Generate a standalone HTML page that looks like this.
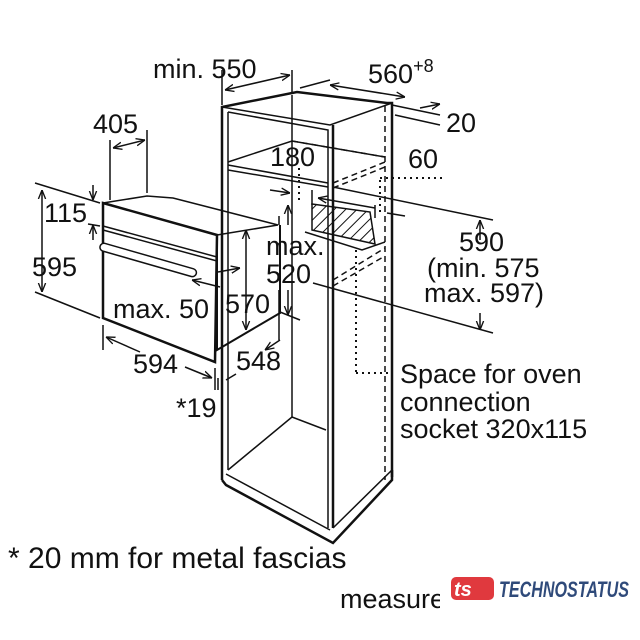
<!DOCTYPE html>
<html><head><style>
html,body{margin:0;padding:0;background:#fff;}
svg{display:block;}
text{font-family:"Liberation Sans",sans-serif;fill:#111;font-size:27px;}
</style></head><body>
<svg width="640" height="640" viewBox="0 0 640 640" xmlns="http://www.w3.org/2000/svg">
<defs>
<marker id="a" viewBox="0 0 10 10" refX="10" refY="5" markerWidth="6" markerHeight="6" orient="auto-start-reverse"><path d="M0,1 L10,5 L0,9" fill="none" stroke="#111" stroke-width="1.5"/></marker>
<pattern id="h" width="8" height="8" patternUnits="userSpaceOnUse" patternTransform="rotate(45)"><line x1="0" y1="0" x2="0" y2="8" stroke="#111" stroke-width="2"/></pattern>
</defs>
<g stroke="#111" fill="none" stroke-width="1.5">
<polyline points="222,480 222,107 297,92 387,103 392,103 392,477" stroke-width="2.5"/>
<line x1="228" y1="112" x2="228" y2="470"/>
<polyline points="222,107 330,125 392,103"/>
<polyline points="228,112 328,130 328,528"/>
<line x1="333" y1="125" x2="333" y2="528" stroke-width="2.5"/>
<line x1="385" y1="106" x2="385" y2="480" stroke-dasharray="6,4"/>
<line x1="292" y1="95" x2="292" y2="417"/>
<polyline points="228,162 292,141 385,157" />
<line x1="292" y1="141" x2="385" y2="157" stroke-dasharray="6,4"/>
<line x1="228" y1="165" x2="328" y2="183"/>
<line x1="228" y1="170" x2="328" y2="187"/>
<line x1="333" y1="183" x2="385" y2="162" stroke-dasharray="6,4"/>
<line x1="333" y1="188" x2="385" y2="167" stroke-dasharray="6,4"/>
<line x1="333" y1="280" x2="385" y2="248" stroke-dasharray="6,4"/>
<line x1="333" y1="286" x2="385" y2="256" stroke-dasharray="6,4"/>
<polyline points="228,470 292,417 326,430"/>
<polyline points="222,480 226,485 333,543 392,480 392,470" stroke-width="2.5"/>
<line x1="226" y1="474" x2="330" y2="530"/>
<line x1="333" y1="528" x2="392" y2="470"/>
<polygon points="312,204 370,212 375,244 312,230" fill="url(#h)"/>
<polyline points="305,232 362,250 385,242"/>
<line x1="299" y1="168" x2="299" y2="200" stroke-dasharray="2,4" stroke-width="2"/>
<line x1="356" y1="250" x2="356" y2="373" stroke-dasharray="2,4" stroke-width="2"/>
<line x1="356" y1="373" x2="392" y2="373" stroke-dasharray="2,4" stroke-width="2"/>
<line x1="380" y1="178" x2="445" y2="178" stroke-dasharray="2,4" stroke-width="2"/>
<line x1="380" y1="180" x2="380" y2="215" stroke-dasharray="2,4" stroke-width="2"/>
<polygon points="103,203 217,235 215,362 103,318" fill="#fff" stroke-width="2.5"/>
<polyline points="103,203 147,196 173,198 278,225 217,235"/>
<polyline points="217,235 217,350 280,313 280,225" stroke-width="2"/>
<line x1="103" y1="226" x2="217" y2="257"/>
<line x1="103" y1="230" x2="217" y2="261"/>
<rect x="100" y="243" width="100" height="8" rx="4" transform="rotate(16 103 247)" fill="#fff"/>
<line x1="222" y1="105" x2="222" y2="70"/><line x1="292" y1="92" x2="292" y2="70"/>
<line x1="225" y1="90" x2="290" y2="75" marker-start="url(#a)" marker-end="url(#a)"/>
<line x1="300" y1="88" x2="330" y2="80"/><line x1="330" y1="85" x2="405" y2="97" marker-start="url(#a)" marker-end="url(#a)"/>
<line x1="392" y1="105" x2="440" y2="115"/><line x1="395" y1="115" x2="440" y2="125"/>
<line x1="420" y1="108" x2="440" y2="104" marker-end="url(#a)"/>
<line x1="110" y1="200" x2="110" y2="140"/><line x1="147" y1="193" x2="147" y2="130"/>
<line x1="113" y1="148" x2="145" y2="140" marker-start="url(#a)" marker-end="url(#a)"/>
<line x1="35" y1="183" x2="100" y2="203"/><line x1="35" y1="292" x2="100" y2="318"/>
<line x1="42" y1="190" x2="42" y2="292" marker-start="url(#a)" marker-end="url(#a)"/>
<line x1="93" y1="185" x2="93" y2="200" marker-end="url(#a)"/>
<line x1="93" y1="240" x2="93" y2="225" marker-end="url(#a)"/>
<line x1="88" y1="224" x2="100" y2="226"/>
<line x1="103" y1="325" x2="103" y2="350"/><line x1="215" y1="368" x2="215" y2="390"/>
<line x1="106" y1="337" x2="140" y2="352" marker-start="url(#a)"/>
<line x1="185" y1="367" x2="212" y2="378" marker-end="url(#a)"/>
<line x1="246" y1="230" x2="246" y2="330" marker-start="url(#a)" marker-end="url(#a)"/>
<line x1="218" y1="272" x2="240" y2="268" marker-end="url(#a)"/>
<line x1="192" y1="280" x2="220" y2="287" marker-start="url(#a)"/>
<line x1="218" y1="378" x2="218" y2="390"/><line x1="222" y1="370" x2="222" y2="385"/>
<line x1="226" y1="380" x2="236" y2="374"/>
<line x1="279" y1="290" x2="279" y2="340"/>
<line x1="280" y1="340" x2="265" y2="350" marker-end="url(#a)"/>
<line x1="288" y1="290" x2="288" y2="315" marker-end="url(#a)"/>
<line x1="280" y1="312" x2="300" y2="320"/>
<line x1="288" y1="225" x2="288" y2="205" marker-end="url(#a)"/>
<line x1="279" y1="225" x2="279" y2="216"/>
<line x1="270" y1="190" x2="290" y2="193" marker-end="url(#a)"/>
<line x1="318" y1="198" x2="375" y2="208" marker-start="url(#a)"/>
<line x1="312" y1="190" x2="312" y2="205"/><line x1="375" y1="205" x2="375" y2="218"/>
<line x1="387" y1="213" x2="405" y2="216"/>
<line x1="333" y1="187" x2="493" y2="220"/><line x1="313" y1="283" x2="493" y2="333"/>
<line x1="480" y1="240" x2="480" y2="220" marker-end="url(#a)"/>
<line x1="480" y1="313" x2="480" y2="330" marker-end="url(#a)"/>
</g>
<text x="153" y="78">min. 550</text>
<text x="368" y="83">560<tspan font-size="18" dy="-11">+8</tspan></text>
<text x="446" y="132">20</text>
<text x="93" y="133">405</text>
<text x="270" y="166">180</text>
<text x="408" y="168">60</text>
<text x="44" y="222">115</text>
<text x="32" y="276">595</text>
<text x="459" y="251">590</text>
<text x="427" y="277">(min. 575</text>
<text x="424" y="302">max. 597)</text>
<text x="266" y="255">max.</text>
<text x="266" y="283">520</text>
<text x="113" y="318">max. 50</text>
<text x="225" y="313">570</text>
<text x="133" y="373">594</text>
<text x="236" y="370">548</text>
<text x="176" y="417">*19</text>
<text x="400" y="383">Space for oven</text>
<text x="400" y="411">connection</text>
<text x="400" y="438">socket 320x115</text>
<text x="8" y="568" style="font-size:30px">* 20 mm for metal fascias</text>
<svg x="0" y="0" width="440" height="640"><text x="340" y="608">measure</text></svg>
<rect x="451" y="577" width="43" height="23" rx="5" fill="#e0393e"/>
<text x="454" y="596" style="font-weight:bold;font-style:italic;fill:#fff;font-size:20px">ts</text>
<text x="499" y="597" style="font-weight:bold;font-style:italic;fill:#2f4a7a;font-size:22px" textLength="130" lengthAdjust="spacingAndGlyphs">TECHNOSTATUS</text>
</svg>
</body></html>
